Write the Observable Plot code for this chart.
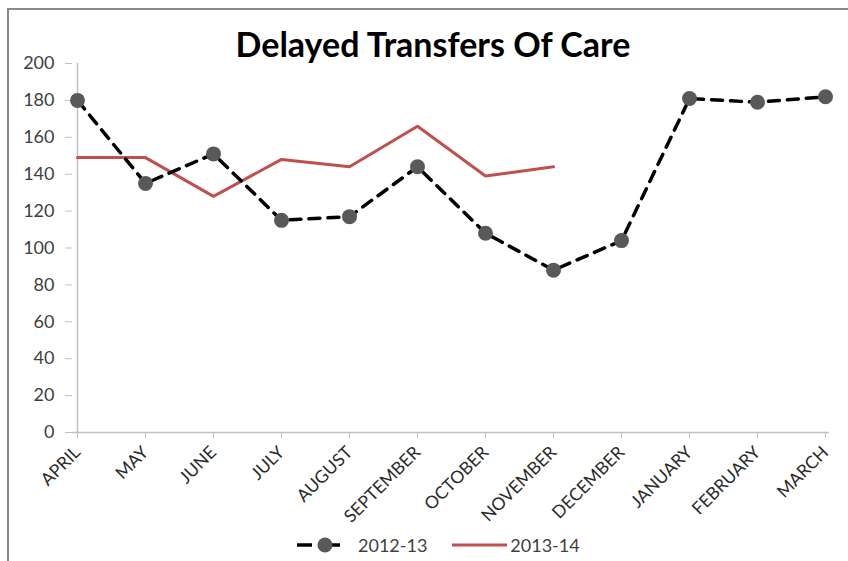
<!DOCTYPE html>
<html>
<head>
<meta charset="utf-8">
<script src="https://cdn.jsdelivr.net/npm/d3@7"></script>
<script src="https://cdn.jsdelivr.net/npm/@observablehq/plot@0.6"></script>
<style>
  html, body { margin: 0; padding: 0; background: #fff; }
  #wrap { position: relative; width: 848px; height: 561px; overflow: hidden; font-family: Lato, "Open Sans", sans-serif; }
  #frame { position: absolute; left: 7px; top: 8px; width: 900px; height: 600px; border-left: 2px solid #8a8a8a; border-top: 2px solid #8a8a8a; pointer-events: none; }
  #title { position: absolute; left: 0; top: 24px; width: 866px; text-align: center; font-weight: 700; font-size: 34px; line-height: 40px; color: #000; }
  #chart { position: absolute; left: 0; top: 44px; }
  #legend { position: absolute; left: 297px; top: 533px; height: 24px; display: flex; align-items: center; font-size: 18px; color: #404040; }
  #legend .item { display: flex; align-items: center; }
  #legend svg { display: block; }
</style>
</head>
<body>
<div id="wrap">
  <div id="frame"></div>
  <div id="title">Delayed Transfers Of Care</div>
  <div id="chart"></div>
  <div id="legend"></div>
</div>
<script>
const months = ["APRIL","MAY","JUNE","JULY","AUGUST","SEPTEMBER","OCTOBER","NOVEMBER","DECEMBER","JANUARY","FEBRUARY","MARCH"];
const series2012 = [180, 135, 151, 115, 117, 144, 108, 88, 104, 181, 179, 182];
const series2013 = [149, 149, 128, 148, 144, 166, 139, 144];
const yTicks = [0, 20, 40, 60, 80, 100, 120, 140, 160, 180, 200];
const seriesNames = ["2012-13", "2013-14"];

const d2012 = months.map((m, i) => ({month: m, value: series2012[i]}));
const d2013 = series2013.map((v, i) => ({month: months[i], value: v}));

const chart = Plot.plot({
  width: 848,
  height: 486,
  marginLeft: 72,
  marginRight: 19,
  marginTop: 19,
  marginBottom: 98,
  style: {fontFamily: "Lato, 'Open Sans', sans-serif", color: "#404040", background: "transparent"},
  x: {type: "point", domain: months, range: [72, 829], padding: 0},
  y: {domain: [0, 200], range: [388, 19]},
  marks: [
    Plot.ruleX([months[0]], {stroke: "#c0c0c0", strokeWidth: 1.5}),
    Plot.ruleY([0], {stroke: "#c0c0c0", strokeWidth: 1.5}),
    Plot.axisY({ticks: yTicks, tickSize: 7, tickPadding: 11, stroke: "#c0c0c0", fontSize: 18, fill: "#404040", label: null}),
    Plot.axisX({tickSize: 6, tickRotate: -45, tickPadding: 11, stroke: "#c0c0c0", fontSize: 17.5, fill: "#2a2a2a", label: null}),
    Plot.line(d2013, {x: "month", y: "value", stroke: "#c0504d", strokeWidth: 3}),
    Plot.line(d2012, {x: "month", y: "value", stroke: "#000", strokeWidth: 3.5, strokeDasharray: "11,8"}),
    Plot.dot(d2012, {x: "month", y: "value", r: 7.5, fill: "#595959", stroke: "none"})
  ]
});
document.getElementById("chart").appendChild(chart);

const legend = document.getElementById("legend");
legend.innerHTML = `
  <div class="item">
    <svg width="43" height="16"><line x1="0" y1="8" x2="15" y2="8" stroke="#000" stroke-width="3.5"/><line x1="32" y1="8" x2="43" y2="8" stroke="#000" stroke-width="3.5"/><circle cx="28" cy="8" r="7.5" fill="#595959"/></svg>
    <span style="margin-left:18px">${seriesNames[0]}</span>
  </div>
  <div class="item" style="margin-left:25px">
    <svg width="55" height="16"><line x1="0" y1="8" x2="55" y2="8" stroke="#c0504d" stroke-width="3"/></svg>
    <span style="margin-left:3px">${seriesNames[1]}</span>
  </div>`;
</script>
</body>
</html>
